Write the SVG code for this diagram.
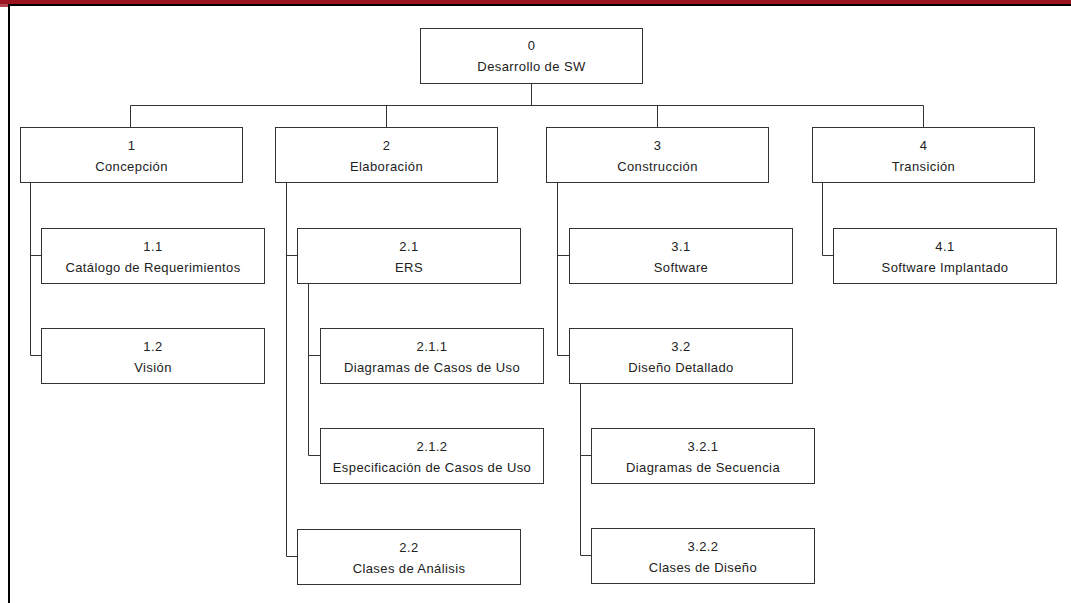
<svg xmlns="http://www.w3.org/2000/svg" width="1071" height="603" viewBox="0 0 1071 603">
  <style>
    .box rect { fill: #ffffff; stroke: #333333; stroke-width: 1; }
    .box text { font-family: "Liberation Sans", Arial, sans-serif; font-size: 13px; letter-spacing: 0.4px; fill: #222222; text-anchor: middle; }
    #connectors path { fill: none; stroke: #333333; stroke-width: 1; }
  </style>
  <rect x="0" y="0" width="1071" height="603" fill="#ffffff"/>
  <!-- page frame -->
  <rect x="0" y="0" width="1071" height="4" fill="#9b1520"/>
  <rect x="0" y="4" width="8" height="3" fill="#b5454d"/>
  <rect x="8" y="4" width="1063" height="2" fill="#000000"/>
  <rect x="8" y="4" width="2" height="599" fill="#000000"/>

  <g id="connectors">
    <path d="M531.5 83 V105.5 M130.5 105.5 H923.5 M130.5 105.5 V127 M386.5 105.5 V127 M657.5 105.5 V127 M923.5 105.5 V127"/>
    <path d="M30.5 183 V355.5 H41 M30.5 255.5 H41"/>
    <path d="M286.5 183 V556.5 H297 M286.5 255.5 H297"/>
    <path d="M308.5 283 V455.5 H320 M308.5 355.5 H320"/>
    <path d="M557.5 183 V355.5 H569 M557.5 255.5 H569"/>
    <path d="M580.5 384 V555.5 H591 M580.5 455.5 H591"/>
    <path d="M822.5 183 V255.5 H833"/>
  </g>

  <g id="n0" class="box"><rect x="420.5" y="28.5" width="222" height="55"/><text x="531.5" y="50">0</text><text x="531.5" y="71">Desarrollo de SW</text></g>
  <g id="n1" class="box"><rect x="20.5" y="127.5" width="222" height="55"/><text x="131.5" y="150">1</text><text x="131.5" y="171">Concepción</text></g>
  <g id="n2" class="box"><rect x="275.5" y="127.5" width="222" height="55"/><text x="386.5" y="150">2</text><text x="386.5" y="171">Elaboración</text></g>
  <g id="n3" class="box"><rect x="546.5" y="127.5" width="222" height="55"/><text x="657.5" y="150">3</text><text x="657.5" y="171">Construcción</text></g>
  <g id="n4" class="box"><rect x="812.5" y="127.5" width="222" height="55"/><text x="923.5" y="150">4</text><text x="923.5" y="171">Transición</text></g>

  <g id="n1_1" class="box"><rect x="41.5" y="228.5" width="223" height="55"/><text x="153" y="251">1.1</text><text x="153" y="271.5">Catálogo de Requerimientos</text></g>
  <g id="n1_2" class="box"><rect x="41.5" y="328.5" width="223" height="55"/><text x="153" y="351">1.2</text><text x="153" y="371.5">Visión</text></g>

  <g id="n2_1" class="box"><rect x="297.5" y="228.5" width="223" height="55"/><text x="409" y="251">2.1</text><text x="409" y="271.5">ERS</text></g>
  <g id="n2_1_1" class="box"><rect x="320.5" y="328.5" width="223" height="55"/><text x="432" y="351">2.1.1</text><text x="432" y="371.5">Diagramas de Casos de Uso</text></g>
  <g id="n2_1_2" class="box"><rect x="320.5" y="428.5" width="223" height="55"/><text x="432" y="451">2.1.2</text><text x="432" y="471.5">Especificación de Casos de Uso</text></g>
  <g id="n2_2" class="box"><rect x="297.5" y="529.5" width="223" height="55"/><text x="409" y="552">2.2</text><text x="409" y="572.5">Clases de Análisis</text></g>

  <g id="n3_1" class="box"><rect x="569.5" y="228.5" width="223" height="55"/><text x="681" y="251">3.1</text><text x="681" y="271.5">Software</text></g>
  <g id="n3_2" class="box"><rect x="569.5" y="328.5" width="223" height="55"/><text x="681" y="351">3.2</text><text x="681" y="371.5">Diseño Detallado</text></g>
  <g id="n3_2_1" class="box"><rect x="591.5" y="428.5" width="223" height="55"/><text x="703" y="451">3.2.1</text><text x="703" y="471.5">Diagramas de Secuencia</text></g>
  <g id="n3_2_2" class="box"><rect x="591.5" y="528.5" width="223" height="55"/><text x="703" y="551">3.2.2</text><text x="703" y="571.5">Clases de Diseño</text></g>

  <g id="n4_1" class="box"><rect x="833.5" y="228.5" width="223" height="55"/><text x="945" y="251">4.1</text><text x="945" y="271.5">Software Implantado</text></g>
</svg>
